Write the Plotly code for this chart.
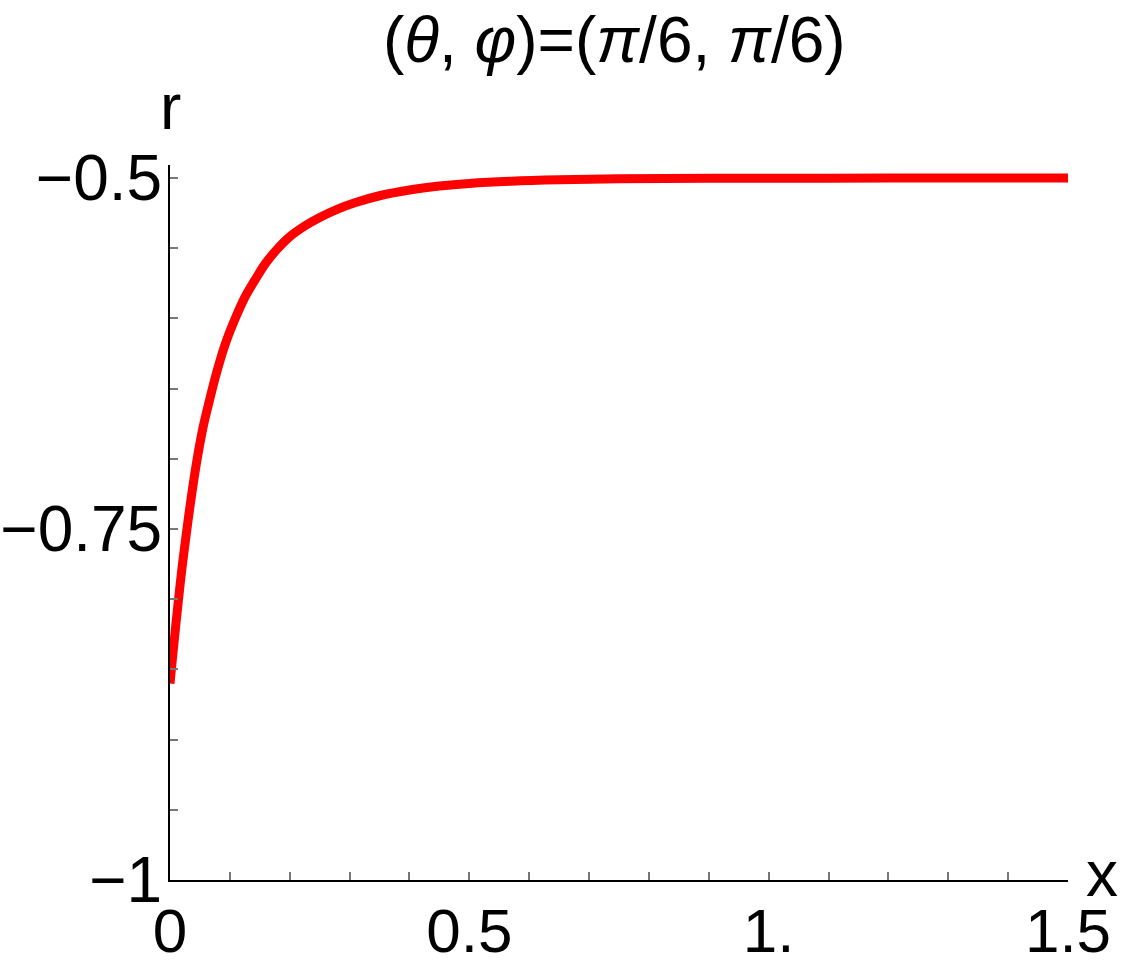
import plotly.graph_objects as go

# Curve values
x_vals = [0, 0.005, 0.01, 0.015, 0.02, 0.028, 0.035, 0.045, 0.055, 0.065, 0.075, 0.085,
          0.095, 0.11, 0.125, 0.14, 0.16, 0.18, 0.2, 0.225, 0.25, 0.28, 0.31, 0.35, 0.4,
          0.45, 0.5, 0.57, 0.65, 0.75, 0.9, 1.1, 1.3, 1.5]
r_vals = [-0.860, -0.838, -0.817, -0.797, -0.778, -0.751, -0.729, -0.701, -0.678, -0.660,
          -0.643, -0.628, -0.615, -0.599, -0.585, -0.574, -0.5605, -0.5502, -0.5418, -0.5342,
          -0.5281, -0.5221, -0.5174, -0.5126, -0.5085, -0.5057, -0.5038, -0.5022, -0.5012,
          -0.5005, -0.5002, -0.5001, -0.5, -0.5]

x_tickvals = [0, 0.5, 1.0, 1.5]
x_ticktext = ["0", "0.5", "1.", "1.5"]
y_tickvals = [-1, -0.75, -0.5]
y_ticktext = ["\u22121", "\u22120.75", "\u22120.5"]

title_text = "(<i>\u03b8</i>, <i>\u03c6</i>)=(<i>\u03c0</i>/6, <i>\u03c0</i>/6)"

FONT = "Liberation Sans, Arial, sans-serif"
FS = 64

fig = go.Figure()
fig.add_trace(go.Scatter(x=x_vals, y=r_vals, mode="lines",
                         line=dict(color="#FF0000", width=9, shape="spline", smoothing=1.0),
                         showlegend=False, hoverinfo="skip"))

fig.update_layout(
    width=1125, height=967,
    margin=dict(l=170, r=57, t=165, b=87, autoexpand=False),
    paper_bgcolor="white", plot_bgcolor="white",
    font=dict(family=FONT, size=FS, color="black"),
    title=dict(text=title_text, x=0.546, xanchor="center", y=0.959, yanchor="middle",
               font=dict(family=FONT, size=FS, color="black")),
    annotations=[
        dict(text="r", xref="paper", yref="paper", x=0.0, y=1.0, xanchor="center",
             yanchor="bottom", yshift=20, showarrow=False, font=dict(family=FONT, size=FS)),
        dict(text="x", xref="paper", yref="paper", x=1.0, y=0.0, xanchor="left",
             yanchor="middle", xshift=16, yshift=6, showarrow=False, font=dict(family=FONT, size=FS)),
    ],
)

fig.update_xaxes(
    range=[0, 1.5], showgrid=False, zeroline=False, automargin=False,
    showline=True, linecolor="black", linewidth=2,
    tickvals=x_tickvals, ticktext=x_ticktext,
    ticks="inside", ticklen=8, tickwidth=2, tickcolor="#777777",
    ticklabelstandoff=-4,
    minor=dict(tick0=0, dtick=0.1, ticks="inside", ticklen=8, tickwidth=2, tickcolor="#777777"),
    tickfont=dict(family=FONT, size=62),
)
fig.update_yaxes(
    range=[-1, -0.4907], showgrid=False, zeroline=False, automargin=False,
    showline=True, linecolor="black", linewidth=2,
    tickvals=y_tickvals, ticktext=y_ticktext,
    ticks="inside", ticklen=8, tickwidth=2, tickcolor="#777777",
    ticklabelstandoff=-7,
    minor=dict(tick0=-1, dtick=0.05, ticks="inside", ticklen=8, tickwidth=2, tickcolor="#777777"),
    tickfont=dict(family=FONT, size=FS),
)

fig.write_html("out.html")
